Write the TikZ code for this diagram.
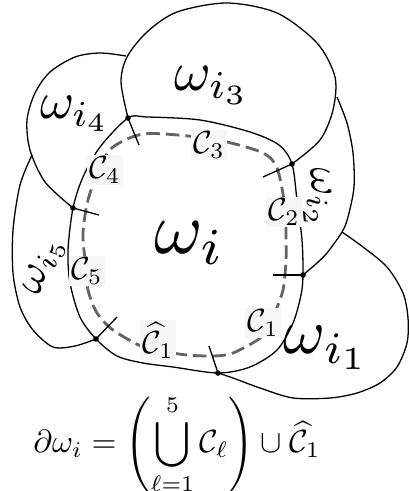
\documentclass[tikz,border=0pt]{standalone}
\usepackage{amsmath}
\definecolor{dashgray}{RGB}{100,100,100}
\definecolor{lblbg}{RGB}{246,246,246}
\begin{document}
\begin{tikzpicture}[x=0.5pt,y=-0.5pt,
  bnd/.style={line width=0.65pt, black},
  dsh/.style={line width=1.4pt, dashgray, dash pattern=on 6.8pt off 3pt},
  tick/.style={line width=0.65pt, black},
  jdot/.style={circle, fill=black, inner sep=0pt, minimum size=2.8pt},
  clab/.style={fill=lblbg, inner sep=0.6pt, scale=1.6},
  wlab/.style={inner sep=0pt}]
\useasboundingbox (0,0) rectangle (408,491);
% junctions
\coordinate (J1) at (128,118);
\coordinate (J2) at (292,164);
\coordinate (J3) at (303,275);
\coordinate (J4) at (218,373);
\coordinate (J5) at (96,339);
\coordinate (J6) at (73,208);
\coordinate (A4) at (126,56);
\coordinate (A5) at (32,155);
\coordinate (A2) at (337,97);
\coordinate (A1) at (342,232);
% omega_i boundary
\draw[bnd] plot[smooth cycle] coordinates {(J1) (147,117) (200,120) (250,132) (279,145) (J2) (297,200) (302,240) (J3) (301,295) (293,323) (277,350) (250,367) (J4) (173,367) (143,363) (117,356) (J5) (80,317) (70,283) (68,250) (J6) (83,177) (100,147)};
% omega_{i3}
\draw[bnd] plot[smooth] coordinates {(J1) (121,82) (127,57) (147,32) (177,12) (227,3) (277,13) (317,43) (335,77) (333,110) (320,140) (J2)};
% omega_{i4}
\draw[bnd] plot[smooth] coordinates {(A4) (100,53) (75,57) (50,72) (35,93) (27,120) (30,150) (45,182) (J6)};
% omega_{i5}
\draw[bnd] plot[smooth] coordinates {(A5) (20,185) (13,230) (13,273) (20,307) (33,330) (53,347) (75,346) (J5)};
% omega_{i2}
\draw[bnd] plot[smooth] coordinates {(A2) (347,123) (353,153) (354,187) (348,217) (A1) (327,253) (317,263) (J3)};
% omega_{i1}
\draw[bnd] plot[smooth] coordinates {(A1) (363,247) (387,267) (403,293) (408,318) (407,343) (397,367) (380,383) (357,393) (330,398) (293,398) (260,388) (233,378) (J4)};
% dashed inner curve
\draw[dsh] plot[smooth cycle] coordinates {(143,134) (188,136) (227,142) (263,153) (277,168) (285,207) (286,240) (286,260) (283,290) (273,317) (263,336) (233,353) (213,356) (187,355) (167,352) (143,347) (113,330) (97,313) (88,290) (85,260) (83,233) (88,200) (100,167) (113,147)};
% ticks
\coordinate (T1) at (139,145);
\coordinate (T2) at (263,177);
\coordinate (T3) at (273,275);
\coordinate (T4) at (209,346);
\coordinate (T5) at (117,317);
\coordinate (T6) at (99,215);
\draw[tick] (J1) -- (T1);
\draw[tick] (J2) -- (T2);
\draw[tick] (J3) -- (T3);
\draw[tick] (J4) -- (T4);
\draw[tick] (J5) -- (T5);
\draw[tick] (J6) -- (T6);
\foreach \j in {J1,J2,J3,J4,J5,J6} \node[jdot] (d\j) at (\j) {};
% C labels
\node[clab] (c3) at (209,145) {$\mathcal{C}_3$};
\node[clab] (c4) at (105,170) {$\mathcal{C}_4$};
\node[clab] (c2) at (284,212) {$\mathcal{C}_2$};
\node[clab] (c5) at (87,271) {$\mathcal{C}_5$};
\node[clab] (c1) at (263,323) {$\mathcal{C}_1$};
\node[clab] (c1h) at (158,340) {$\widehat{\mathcal{C}}_1$};
% omega labels
\node[wlab, scale=3.7] (wi) at (190,243) {$\omega_i$};
\node[wlab, scale=2.8] (w3) at (212,85) {$\omega_{i_3}$};
\node[wlab, scale=2.6] (w4) at (75,114) {$\omega_{i_4}$};
\node[wlab, scale=3.2] (w1) at (327,348) {$\omega_{i_1}$};
\node[wlab, scale=2.2, rotate=-85] (w2) at (317,198) {$\omega_{i_2}$};
\node[wlab, scale=2.2, rotate=72] (w5) at (45,266) {$\omega_{i_5}$};
% formula
\node[inner sep=0pt, scale=1.6] (eq) at (177,445) {$\displaystyle \partial\omega_i = \left(\bigcup_{\ell=1}^{5}\mathcal{C}_\ell\right)\cup\widehat{\mathcal{C}}_1$};
\end{tikzpicture}
\end{document}
